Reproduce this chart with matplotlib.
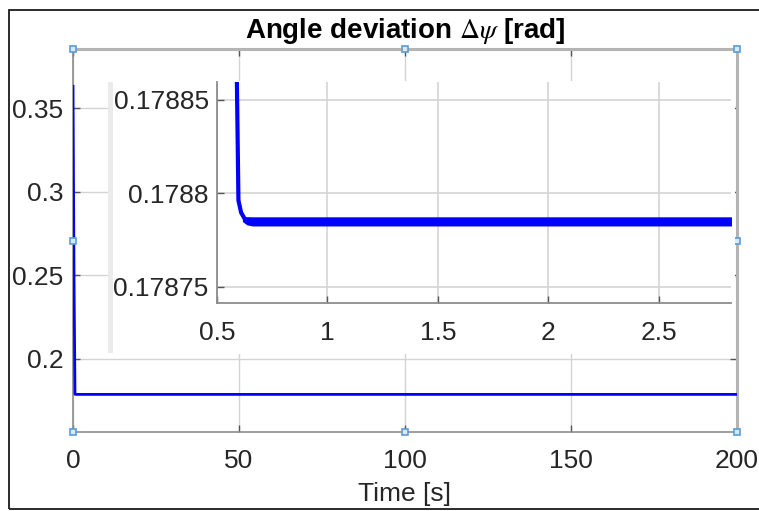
import matplotlib.pyplot as plt
from matplotlib.patches import Rectangle

plt.rcParams['font.family'] = ['Liberation Sans', 'DejaVu Sans']
plt.rcParams['mathtext.fontset'] = 'stix'

W, H = 759, 511

# full simulation run (s, rad)
t_full = [0.0, 0.3, 0.6, 1.0, 200.0]
psi_full = [0.363, 0.25, 0.17886, 0.178785, 0.178785]

# zoom on the settling transient
t_zoom = [0.59, 0.597, 0.609, 0.627, 0.649, 2.83]
psi_zoom = [0.17886, 0.1787963, 0.1787898, 0.1787861, 0.178785, 0.178785]
# envelope of the steady-state oscillation
t_band = [0.615, 0.635, 0.66, 2.83]
band_lo = [0.1787850, 0.1787832, 0.1787826, 0.1787826]
band_hi = [0.1787875, 0.1787876, 0.1787875, 0.1787875]

main_xticks = [0, 50, 100, 150, 200]
main_yticks = [0.2, 0.25, 0.3, 0.35]
main_ylabels = ['0.2', '0.25', '0.3', '0.35']
zoom_xticks = [0.5, 1, 1.5, 2, 2.5]
zoom_xlabels = ['0.5', '1', '1.5', '2', '2.5']
zoom_yticks = [0.17875, 0.1788, 0.17885]
zoom_ylabels = ['0.17875', '0.1788', '0.17885']

TXT = '#262626'
BLUE = '#0000ff'
FS = 19


def px_box(left, top, right, bottom):
    return [left / W, 1 - bottom / H, (right - left) / W, (bottom - top) / H]


fig = plt.figure(figsize=(W / 100, H / 100), dpi=100)

# main axes
ax = fig.add_axes(px_box(73, 49, 737, 432))
ax.plot(t_full, psi_full, color=BLUE, lw=2.0, zorder=3)
ax.set_xlim(0, 200)
ax.set_ylim(0.1563, 0.3853)
ax.set_xticks(main_xticks)
ax.set_yticks(main_yticks, main_ylabels)
ax.grid(True, color='#d4d4d4', lw=1.0)
ax.tick_params(direction='in', length=5, width=1, color='#555555',
               labelsize=FS, labelcolor=TXT, top=True, right=True)
ax.tick_params(axis='x', pad=12)
ax.tick_params(axis='y', pad=7)
for side in ['left', 'bottom']:
    ax.spines[side].set_color('#8c8c8c')
    ax.spines[side].set_linewidth(1.2)
for side in ['top', 'right']:
    ax.spines[side].set_color('#b4b4b4')
    ax.spines[side].set_linewidth(2.2)
ax.set_xlabel('Time [s]', fontsize=FS, color=TXT, labelpad=7)
ax.set_title(r'Angle deviation $\Delta\psi$ [rad]', fontsize=20,
             fontweight='bold', color='black', pad=8)

# selection handles
hx = [0, 0.5, 1, 0, 1, 0, 0.5, 1]
hy = [0, 0, 0, 0.5, 0.5, 1, 1, 1]
ax.plot(hx, hy, ls='none', marker='s', ms=4.5, mfc='#dbe9f6', mec='#5b9bd5',
        mew=1.2, transform=ax.transAxes, clip_on=False, zorder=10)

# white backing of the zoom panel
fig.add_artist(Rectangle((110 / W, 1 - 354 / H), (735 - 110) / W, (354 - 81) / H,
                         transform=fig.transFigure, facecolor='white',
                         edgecolor='none', zorder=2))
fig.add_artist(Rectangle((108 / W, 1 - 353 / H), 5 / W, (353 - 82) / H,
                         transform=fig.transFigure, facecolor='#ebebeb',
                         edgecolor='none', zorder=2.1))

# zoom panel
axz = fig.add_axes(px_box(217, 82, 731, 303))
axz.set_zorder(3)
axz.patch.set_visible(False)
axz.fill_between(t_band, band_lo, band_hi, color=BLUE, lw=0, zorder=3)
axz.plot(t_zoom, psi_zoom, color=BLUE, lw=3.0, zorder=3)
axz.set_xlim(0.5, 2.826)
axz.set_ylim(0.1787414, 0.1788596)
axz.set_xticks(zoom_xticks, zoom_xlabels)
axz.set_yticks(zoom_yticks, zoom_ylabels)
axz.grid(True, color='#d4d4d4', lw=1.2)
axz.tick_params(direction='in', length=5, width=1, color='#555555',
                labelsize=FS, labelcolor=TXT)
axz.tick_params(axis='x', pad=13)
axz.tick_params(axis='y', pad=6)
for side in ['top', 'right']:
    axz.spines[side].set_visible(False)
for side in ['left', 'bottom']:
    axz.spines[side].set_color('#8c8c8c')
    axz.spines[side].set_linewidth(1.3)

# outer frame
fig.add_artist(Rectangle((9 / W, 1 - 509 / H), (765 - 9) / W, (509 - 10) / H,
                         transform=fig.transFigure, facecolor='none',
                         edgecolor='#1a1a1a', lw=1.3, zorder=20))

fig.savefig('out.png', dpi=100)
